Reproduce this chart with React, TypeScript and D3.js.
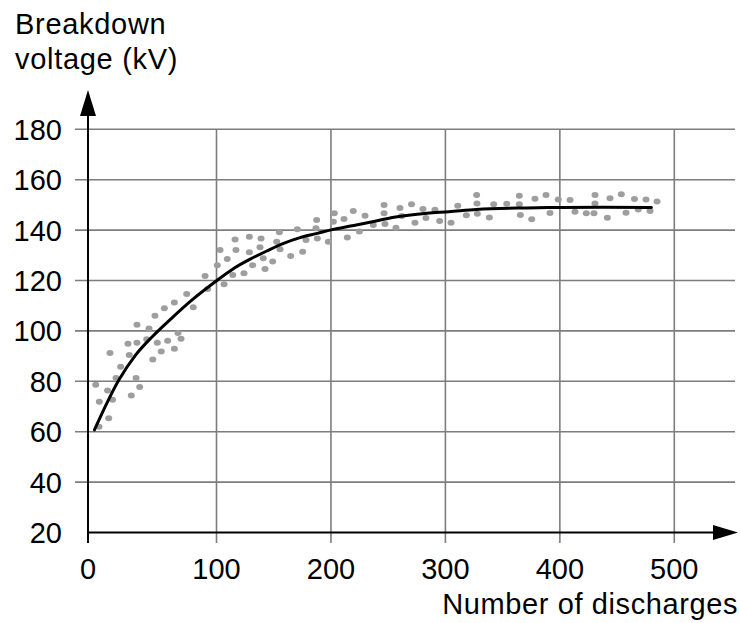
import React from "react";
import * as d3 from "d3";

// Axis ticks
const xTicks = [0, 100, 200, 300, 400, 500];
const yTicks = [20, 40, 60, 80, 100, 120, 140, 160, 180];

// Measured data points (number of discharges, breakdown voltage kV)
const dischargeCount = [
  76.8, 67.2, 81.9, 59.4, 52.1, 38.1, 47.5, 45.7, 70.0, 72.4, 62.0, 53.9, 38.1, 31.1, 67.2,
  57.0, 17.1, 32.1, 50.4, 25.4, 21.8, 37.4, 6.0, 40.2, 15.2, 33.7, 8.8, 19.1, 16.1, 8.6,
  91.1, 93.1, 100.7, 103.1, 106.6, 109.4, 114.2, 116.2, 117.0, 124.0, 128.7, 128.7, 131.6,
  138.9, 138.0, 140.9, 142.4, 149.1, 152.6, 154.9, 155.5, 164.8, 170.6, 175.3, 178.2, 187.5,
  186.9, 188.1, 197.7, 202.9, 202.1, 211.4, 214.3, 219.5, 224.8, 229.8,
  237.0, 246.4, 246.4, 247.2, 256.8, 260.3, 261.8, 270.4, 273.4, 280.4, 283.0, 290.9, 295.0,
  304.9, 310.8, 318.3, 327.3, 327.6, 327.9, 338.4, 342.2, 353.6, 364.6, 364.6, 365.5, 375.4,
  378.3, 387.9, 391.4, 398.6, 408.9, 413.2, 423.1, 429.8, 430.7, 430.7, 441.5, 443.8, 453.7,
  457.8, 465.2, 468.5, 475.3, 478.8, 484.9,
];
const breakdownVoltage = [
  114.6, 111.3, 109.4, 109.0, 106.0, 102.4, 101.0, 96.7, 99.2, 96.9, 96.1, 95.3, 95.3, 94.9, 92.9,
  91.8, 91.2, 90.4, 88.7, 85.8, 81.3, 81.3, 78.6, 77.7, 76.3, 74.4, 71.9, 72.7, 65.3, 62.0,
  121.8, 116.6, 126.1, 132.1, 118.5, 128.5, 122.2, 136.3, 132.1, 122.9, 137.4, 131.2, 126.1,
  136.7, 133.2, 128.8, 124.6, 127.5, 135.4, 139.1, 132.4, 129.7, 140.3, 131.4, 136.1, 144.0,
  140.7, 136.7, 135.4, 146.7, 143.3, 144.4, 137.1, 147.6, 139.4, 145.7,
  142.0, 150.0, 146.7, 142.4, 140.9, 148.8, 145.6, 150.3, 142.9, 148.4, 144.8, 148.1, 143.6,
  142.9, 149.7, 145.9, 153.9, 150.6, 146.5, 145.0, 150.3, 150.5, 153.6, 150.3, 146.0, 144.3,
  152.4, 153.9, 146.8, 152.1, 151.9, 147.3, 146.7, 146.7, 153.9, 150.6, 144.9, 152.6, 154.2,
  146.9, 152.3, 148.2, 152.1, 147.6, 151.3,
];

// Fitted curve
const curveX = [5, 24, 37, 50, 65, 81, 99, 115, 129, 144, 158, 173, 188, 202, 217, 234, 255, 284, 303, 327, 371, 400, 438, 480];
const curveY = [60.7, 80.5, 90.4, 97.7, 105, 112.3, 119.5, 124.8, 128.4, 131.7, 134.6, 137.0, 138.7, 140.3, 141.6, 143.1, 145.1, 146.7, 147.3, 148.2, 148.8, 149.0, 149.1, 149.0];

const W = 740;
const H = 623;
const FONT = "'Liberation Sans', Arial, Helvetica, sans-serif";

export default function App() {
  const x = d3.scaleLinear().domain([0, 100, 500]).range([88, 216.5, 674.3]);
  const y = d3.scaleLinear().domain([20, 180]).range([532.5, 129.3]);

  const x0 = x(0);
  const yBase = y(20);
  const yTop = y(180);
  const gridRight = 735;
  const gridLeft = 75;
  const tickBottom = 543;

  const line = d3
    .line<number>()
    .x((_, i) => x(curveX[i]))
    .y((d) => y(d))
    .curve(d3.curveMonotoneX);
  const curvePath = line(curveY) || "";

  const gridColor = "#7d7d7d";

  return (
    <svg
      width={W}
      height={H}
      style={{ position: "absolute", left: 0, top: 0, background: "#fff" }}
      fontFamily={FONT}
    >
      <rect x={0} y={0} width={W} height={H} fill="#fff" />
      {/* horizontal gridlines */}
      {yTicks
        .filter((t) => t > 20)
        .map((t) => (
          <line key={"h" + t} x1={gridLeft} x2={gridRight} y1={y(t)} y2={y(t)} stroke={gridColor} strokeWidth={1.6} />
        ))}
      {/* vertical gridlines */}
      {xTicks
        .filter((t) => t > 0)
        .map((t) => (
          <line key={"v" + t} x1={x(t)} x2={x(t)} y1={yTop} y2={tickBottom} stroke={gridColor} strokeWidth={1.6} />
        ))}

      {/* data points */}
      {dischargeCount.map((d, i) => (
        <ellipse key={"p" + i} cx={x(d)} cy={y(breakdownVoltage[i])} rx={3.5} ry={3} fill="#9e9e9e" />
      ))}

      {/* fitted curve */}
      <path d={curvePath} fill="none" stroke="#000" strokeWidth={3} strokeLinecap="round" />

      {/* axes */}
      <line x1={x0} x2={x0} y1={tickBottom} y2={112} stroke="#000" strokeWidth={2} />
      <polygon points={`${x0},90 ${x0 - 8},116 ${x0 + 8},116`} fill="#000" />
      <line x1={x0} x2={716} y1={yBase} y2={yBase} stroke="#000" strokeWidth={2} />
      <polygon points={`738,${yBase} 713,${yBase - 7.5} 713,${yBase + 7.5}`} fill="#000" />

      {/* y tick labels */}
      {yTicks.map((t) => (
        <text key={"yl" + t} x={62} y={y(t) + 10.5} textAnchor="end" fontSize={29} fill="#000">
          {t}
        </text>
      ))}
      {/* x tick labels */}
      {xTicks.map((t) => (
        <text key={"xl" + t} x={x(t)} y={579} textAnchor="middle" fontSize={29} fill="#000">
          {t}
        </text>
      ))}

      {/* axis titles */}
      <text x={15} y={33.5} fontSize={29} letterSpacing={0.7} fill="#000">
        Breakdown
      </text>
      <text x={15} y={68.5} fontSize={29} letterSpacing={0.7} fill="#000">
        voltage (kV)
      </text>
      <text x={738} y={614} textAnchor="end" fontSize={29} letterSpacing={0.6} fill="#000">
        Number of discharges
      </text>
    </svg>
  );
}
